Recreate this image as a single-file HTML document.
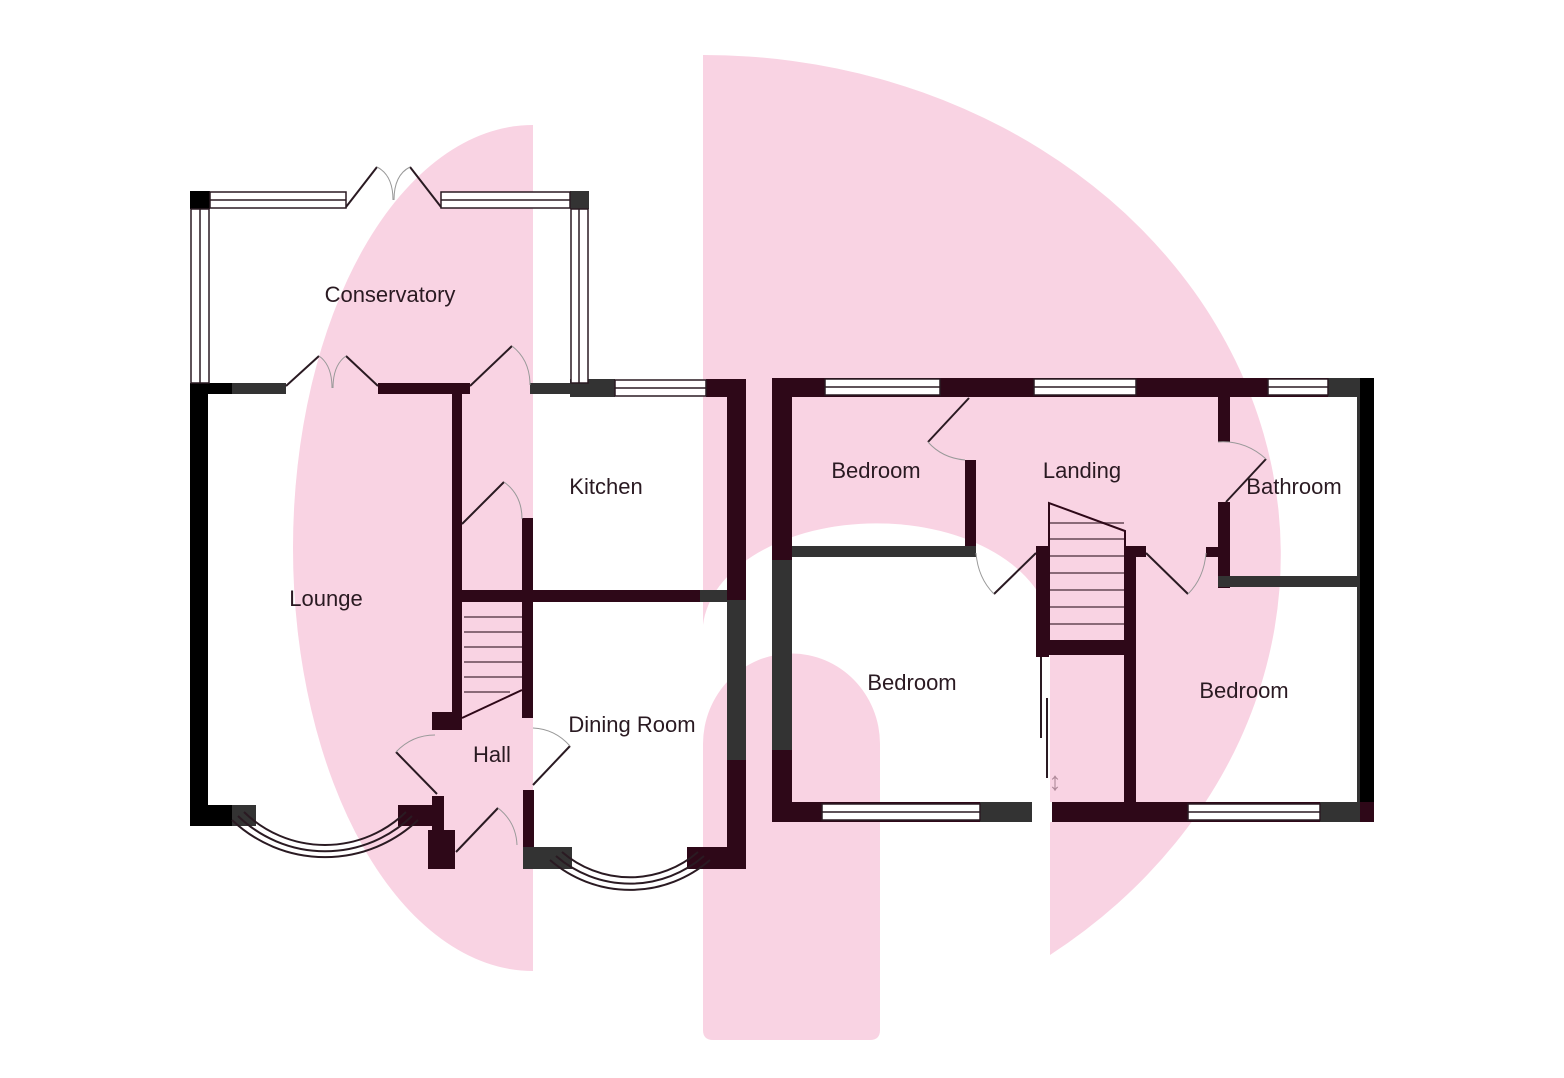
<!DOCTYPE html>
<html><head><meta charset="utf-8"><style>
html,body{margin:0;padding:0;background:#fff}
svg{display:block}
text{font-family:"Liberation Sans",sans-serif;font-size:22px;fill:#2a1a22;text-anchor:middle}
</style></head><body>
<svg width="1564" height="1078" viewBox="0 0 1564 1078" xmlns="http://www.w3.org/2000/svg">
<!-- watermark -->
<g fill="#f9d3e3">
<path d="M533 125 A240 423 0 0 0 533 971 Z"/>
<rect x="703" y="300" width="177" height="740"/>
<path d="M703 55 A577 500 0 0 1 1050 955 L1050 700 L703 700 Z"/>
</g>
<path fill="#fff" d="M703 1078 L703 625 A174 110 0 0 1 1050 625 L1050 1078 Z"/>
<path fill="#f9d3e3" d="M703 1030 L703 744 A88 90 0 0 1 880 744 L880 1030 Q880 1040 870 1040 L713 1040 Q703 1040 703 1030 Z"/>

<!-- ground floor walls -->
<g fill="#2e0818">
<rect x="190" y="383" width="18" height="443" fill="#000"/>
<rect x="190" y="383" width="42" height="11" fill="#000"/>
<rect x="232" y="383" width="54" height="11" fill="#333"/>
<rect x="378" y="383" width="92" height="11"/>
<rect x="530" y="383" width="40" height="11" fill="#333"/>
<rect x="570" y="379" width="45" height="18" fill="#333"/>
<rect x="706" y="379" width="40" height="18"/>
<rect x="727" y="379" width="19" height="490"/>
<rect x="727" y="600" width="19" height="160" fill="#333"/>
<rect x="452" y="394" width="10" height="324"/>
<rect x="432" y="712" width="30" height="18"/>
<rect x="462" y="590" width="265" height="12"/>
<rect x="700" y="590" width="27" height="12" fill="#333"/>
<rect x="522" y="518" width="11" height="200"/>
<rect x="523" y="790" width="11" height="79"/>
<rect x="523" y="847" width="49" height="22" fill="#333"/>
<rect x="687" y="847" width="59" height="22"/>
<rect x="190" y="805" width="42" height="21" fill="#000"/>
<rect x="232" y="805" width="24" height="21" fill="#333"/>
<rect x="398" y="805" width="46" height="21"/>
<rect x="432" y="796" width="12" height="51"/>
<rect x="428" y="830" width="27" height="39"/>
<rect x="190" y="191" width="20" height="18" fill="#000"/>
<rect x="570" y="191" width="19" height="18" fill="#333"/>
</g>
<g fill="#fff" stroke="#2a1a22" stroke-width="1.5">
<rect x="210" y="192" width="136" height="16"/>
<line x1="210" y1="200" x2="346" y2="200"/>
<rect x="441" y="192" width="129" height="16"/>
<line x1="441" y1="200" x2="570" y2="200"/>
<rect x="191" y="209" width="18" height="174"/>
<line x1="200" y1="209" x2="200" y2="383"/>
<rect x="571" y="209" width="17" height="174"/>
<line x1="579" y1="209" x2="579" y2="383"/>
<rect x="615" y="380" width="91" height="16"/>
<line x1="615" y1="388" x2="706" y2="388"/>
</g>
<g stroke="#8a6a78" stroke-width="2">
<line x1="464" y1="617" x2="522" y2="617"/><line x1="464" y1="632" x2="522" y2="632"/>
<line x1="464" y1="647" x2="522" y2="647"/><line x1="464" y1="662" x2="522" y2="662"/>
<line x1="464" y1="677" x2="522" y2="677"/><line x1="464" y1="692" x2="510" y2="692"/>
</g>
<line x1="462" y1="718" x2="522" y2="690" stroke="#2e0818" stroke-width="2"/>
<g fill="none" stroke="#2a1a22" stroke-width="2">
<line x1="346" y1="207" x2="377" y2="167"/><line x1="441" y1="207" x2="410" y2="167"/>
<line x1="286" y1="386" x2="319" y2="356"/><line x1="378" y1="386" x2="346" y2="356"/>
<line x1="470" y1="386" x2="512" y2="346"/>
<line x1="462" y1="524" x2="504" y2="482"/>
<line x1="396" y1="752" x2="437" y2="794"/>
<line x1="570" y1="746" x2="533" y2="785"/>
<line x1="456" y1="852" x2="498" y2="808"/>
</g>
<g fill="none" stroke="#999" stroke-width="1">
<path d="M377 167 Q393 175 393 200"/><path d="M410 167 Q394 175 394 200"/>
<path d="M319 356 Q332 365 332 388"/><path d="M346 356 Q333 365 333 388"/>
<path d="M512 346 Q530 360 530 385"/>
<path d="M504 482 Q522 495 522 519"/>
<path d="M396 752 Q412 735 435 735"/>
<path d="M570 746 Q555 729 533 728"/>
<path d="M498 808 Q516 822 517 845"/>
</g>
<g fill="none" stroke="#2a1a22" stroke-width="2">
<path d="M244 812 A116 116 0 0 0 406 812"/>
<path d="M238 816 A125 125 0 0 0 412 816"/>
<path d="M232 820 A135 135 0 0 0 418 820"/>
<path d="M562 852 A104 104 0 0 0 698 852"/>
<path d="M556 856 A113 113 0 0 0 704 856"/>
<path d="M550 860 A122 122 0 0 0 710 860"/>
</g>
<!-- upstairs -->
<g fill="#2e0818">
<rect x="772" y="378" width="20" height="444"/>
<rect x="772" y="560" width="20" height="190" fill="#333"/>
<rect x="772" y="378" width="600" height="19"/>
<rect x="1328" y="378" width="32" height="19" fill="#333"/>
<rect x="1357" y="378" width="17" height="444" fill="#333"/>
<rect x="1360" y="378" width="14" height="444" fill="#000"/>
<rect x="772" y="802" width="602" height="20"/>
<rect x="980" y="802" width="52" height="20" fill="#333"/>
<rect x="1320" y="802" width="40" height="20" fill="#333"/>
<rect x="1032" y="802" width="20" height="20" fill="#fff"/>
<rect x="965" y="460" width="11" height="97"/>
<rect x="792" y="546" width="184" height="11" fill="#333"/>
<rect x="1036" y="546" width="13" height="111"/>
<rect x="1049" y="640" width="75" height="15"/>
<rect x="1124" y="546" width="12" height="256"/>
<rect x="1124" y="546" width="22" height="11"/>
<rect x="1218" y="397" width="12" height="45"/>
<rect x="1218" y="502" width="12" height="86"/>
<rect x="1206" y="547" width="12" height="10"/>
<rect x="1218" y="576" width="139" height="11" fill="#333"/>
</g>
<g fill="#fff" stroke="#2a1a22" stroke-width="1.5">
<rect x="825" y="379" width="115" height="16"/><line x1="825" y1="387" x2="940" y2="387"/>
<rect x="1034" y="379" width="102" height="16"/><line x1="1034" y1="387" x2="1136" y2="387"/>
<rect x="1268" y="379" width="60" height="16"/><line x1="1268" y1="387" x2="1328" y2="387"/>
<rect x="822" y="804" width="158" height="16"/><line x1="822" y1="812" x2="980" y2="812"/>
<rect x="1188" y="804" width="132" height="16"/><line x1="1188" y1="812" x2="1320" y2="812"/>
</g>
<g stroke="#8a6a78" stroke-width="2">
<line x1="1049" y1="523" x2="1124" y2="523"/><line x1="1049" y1="539" x2="1124" y2="539"/>
<line x1="1049" y1="556" x2="1124" y2="556"/><line x1="1049" y1="573" x2="1124" y2="573"/>
<line x1="1049" y1="590" x2="1124" y2="590"/><line x1="1049" y1="607" x2="1124" y2="607"/>
<line x1="1049" y1="624" x2="1124" y2="624"/>
</g>
<path d="M1049 640 L1049 503 L1125 531 L1125 640" fill="none" stroke="#2e0818" stroke-width="2"/>
<g fill="none" stroke="#2a1a22" stroke-width="2">
<line x1="969" y1="398" x2="928" y2="442"/>
<line x1="1226" y1="502" x2="1266" y2="459"/>
<line x1="1036" y1="553" x2="994" y2="594"/>
<line x1="1146" y1="553" x2="1188" y2="594"/>
<line x1="1041" y1="657" x2="1041" y2="738"/>
<line x1="1047" y1="698" x2="1047" y2="778"/>
</g>
<g fill="none" stroke="#999" stroke-width="1">
<path d="M928 442 Q942 458 965 460"/>
<path d="M1266 459 Q1245 440 1218 442"/>
<path d="M994 594 Q978 578 976 553"/>
<path d="M1188 594 Q1204 578 1206 553"/>
</g>
<text x="1055" y="790" style="font-size:26px;fill:#b08a9a">↕</text>
<text x="390" y="302">Conservatory</text>
<text x="326" y="606">Lounge</text>
<text x="606" y="494">Kitchen</text>
<text x="632" y="732">Dining Room</text>
<text x="492" y="762">Hall</text>
<text x="876" y="478">Bedroom</text>
<text x="1082" y="478">Landing</text>
<text x="1294" y="494">Bathroom</text>
<text x="912" y="690">Bedroom</text>
<text x="1244" y="698">Bedroom</text>
</svg>
</body></html>
